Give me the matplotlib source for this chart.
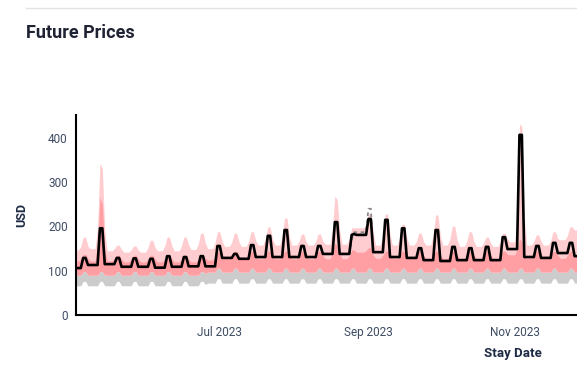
import matplotlib
matplotlib.use('Agg')
import matplotlib.pyplot as plt
import matplotlib.dates as mdates
import pandas as pd

plt.rcParams['font.family'] = ['Roboto', 'DejaVu Sans']

# daily values from Mon 2023-05-01, one row per week (Mon..Sun)
black = [
    106, 106, 106, 106, 129, 129, 113,  # May 1
    113, 113, 113, 113, 196, 196, 115,  # May 8
    115, 115, 115, 115, 129, 129, 109,  # May 15
    109, 109, 109, 109, 128, 128, 109,  # May 22
    109, 109, 109, 109, 127, 127, 107,  # May 29
    107, 107, 107, 107, 133, 133, 109,  # Jun 5
    109, 109, 109, 109, 131, 131, 110,  # Jun 12
    110, 110, 110, 110, 133, 133, 110,  # Jun 19
    110, 110, 110, 110, 156, 156, 129,  # Jun 26
    129, 129, 129, 129, 138, 138, 127,  # Jul 3
    127, 127, 127, 127, 158, 158, 131,  # Jul 10
    131, 131, 131, 131, 179, 179, 131,  # Jul 17
    131, 131, 131, 131, 192, 192, 131,  # Jul 24
    131, 131, 131, 131, 156, 156, 131,  # Jul 31
    131, 131, 131, 131, 156, 156, 138,  # Aug 7
    138, 138, 138, 138, 210, 210, 138,  # Aug 14
    138, 138, 138, 138, 181, 183, 181,  # Aug 21
    181, 181, 181, 181, 217, 217, 142,  # Aug 28
    142, 142, 142, 142, 215, 215, 131,  # Sep 4
    131, 131, 131, 131, 196, 196, 129,  # Sep 11
    129, 129, 129, 129, 151, 151, 124,  # Sep 18
    124, 124, 124, 124, 192, 192, 122,  # Sep 25
    122, 122, 122, 122, 154, 154, 124,  # Oct 2
    124, 124, 124, 124, 151, 151, 124,  # Oct 9
    124, 124, 124, 124, 154, 154, 124,  # Oct 16
    124, 124, 124, 124, 176, 176, 149,  # Oct 23
    149, 149, 149, 149, 407, 407, 131,  # Oct 30
    131, 131, 131, 131, 156, 156, 129,  # Nov 6
    129, 129, 129, 129, 163, 163, 140,  # Nov 13
    140, 140, 140, 140, 163, 163, 133,  # Nov 20
    133, 133, 133, 133,                 # Nov 27
]

light_hi = [
    147, 147, 147, 155, 176, 176, 155,
    150, 150, 150, 200, 343, 330, 190,
    145, 145, 145, 150, 158, 158, 148,
    142, 142, 142, 147, 156, 156, 146,
    142, 142, 142, 152, 169, 169, 152,
    145, 145, 145, 156, 176, 176, 156,
    145, 145, 145, 156, 176, 176, 158,
    148, 148, 148, 160, 185, 185, 162,
    150, 150, 150, 163, 188, 188, 166,
    155, 155, 155, 165, 185, 185, 165,
    155, 155, 155, 166, 188, 188, 168,
    158, 158, 158, 172, 199, 199, 172,
    158, 158, 158, 178, 219, 219, 178,
    158, 158, 158, 166, 183, 183, 166,
    158, 158, 158, 166, 183, 183, 166,
    160, 160, 160, 195, 269, 260, 190,
    160, 160, 160, 172, 197, 197, 197,
    197, 197, 197, 205, 228, 228, 185,
    158, 158, 158, 182, 228, 228, 182,
    158, 158, 158, 174, 205, 205, 174,
    158, 158, 158, 166, 185, 185, 166,
    158, 158, 158, 180, 226, 226, 180,
    158, 158, 158, 172, 201, 201, 170,
    155, 155, 155, 166, 188, 188, 166,
    155, 155, 155, 162, 176, 176, 162,
    155, 155, 155, 165, 185, 185, 172,
    165, 165, 165, 220, 432, 425, 220,
    158, 158, 158, 166, 181, 181, 166,
    158, 158, 158, 168, 188, 188, 172,
    170, 170, 170, 180, 199, 199, 192,
    192, 190, 185, 180,
]

pink_hi = [
    122, 122, 122, 128, 137, 137, 128,
    122, 122, 122, 160, 265, 250, 150,
    122, 122, 122, 128, 135, 135, 126,
    120, 120, 120, 126, 135, 135, 126,
    120, 120, 120, 126, 135, 135, 126,
    120, 120, 120, 126, 135, 135, 126,
    120, 120, 120, 126, 135, 135, 126,
    120, 120, 120, 126, 135, 135, 128,
    124, 124, 124, 131, 142, 142, 133,
    127, 127, 127, 134, 144, 144, 134,
    127, 127, 127, 134, 144, 144, 134,
    127, 127, 127, 134, 144, 144, 134,
    127, 127, 127, 134, 144, 144, 134,
    127, 127, 127, 134, 144, 144, 134,
    127, 127, 127, 134, 144, 144, 134,
    127, 127, 127, 140, 162, 157, 138,
    127, 127, 127, 134, 147, 147, 142,
    142, 142, 142, 145, 152, 152, 135,
    128, 128, 128, 135, 144, 144, 135,
    128, 128, 128, 135, 144, 144, 135,
    128, 128, 128, 135, 144, 144, 135,
    128, 128, 128, 135, 144, 144, 135,
    128, 128, 128, 135, 144, 144, 135,
    128, 128, 128, 135, 144, 144, 135,
    128, 128, 128, 135, 144, 144, 135,
    128, 128, 128, 135, 144, 144, 137,
    136, 136, 136, 148, 172, 167, 135,
    128, 128, 128, 135, 144, 144, 135,
    128, 128, 128, 135, 144, 144, 135,
    128, 128, 128, 135, 144, 144, 135,
    128, 128, 128, 128,
]

pink_lo = [
    90, 90, 90, 90, 98, 98, 90,
    90, 90, 90, 90, 98, 98, 90,
    90, 90, 90, 90, 98, 98, 90,
    90, 90, 90, 90, 98, 98, 90,
    90, 90, 90, 90, 98, 98, 90,
    90, 90, 90, 90, 98, 98, 90,
    90, 90, 90, 90, 98, 98, 90,
    90, 90, 90, 90, 98, 98, 94,
    97, 97, 97, 97, 106, 106, 97,
    97, 97, 97, 97, 106, 106, 97,
    97, 97, 97, 97, 106, 106, 97,
    97, 97, 97, 97, 106, 106, 97,
    97, 97, 97, 97, 106, 106, 97,
    97, 97, 97, 97, 106, 106, 97,
    97, 97, 97, 97, 106, 106, 97,
    97, 97, 97, 97, 106, 106, 97,
    97, 97, 97, 97, 106, 106, 97,
    97, 97, 97, 97, 106, 106, 97,
    97, 97, 97, 97, 106, 106, 97,
    97, 97, 97, 97, 106, 106, 97,
    97, 97, 97, 97, 106, 106, 97,
    97, 97, 97, 97, 106, 106, 97,
    97, 97, 97, 97, 106, 106, 97,
    97, 97, 97, 97, 106, 106, 97,
    97, 97, 97, 97, 106, 106, 97,
    97, 97, 97, 97, 106, 106, 97,
    97, 97, 97, 97, 106, 106, 97,
    97, 97, 97, 97, 106, 106, 97,
    97, 97, 97, 97, 106, 106, 97,
    97, 97, 97, 97, 106, 106, 97,
    97, 97, 97, 97,
]

gray_lo = [
    66, 66, 66, 66, 76, 76, 66,
    66, 66, 66, 66, 76, 76, 66,
    66, 66, 66, 66, 76, 76, 66,
    66, 66, 66, 66, 76, 76, 66,
    66, 66, 66, 66, 76, 76, 66,
    66, 66, 66, 66, 76, 76, 66,
    66, 66, 66, 66, 76, 76, 66,
    66, 66, 66, 66, 76, 76, 69,
    72, 72, 72, 72, 82, 82, 72,
    72, 72, 72, 72, 82, 82, 72,
    72, 72, 72, 72, 82, 82, 72,
    72, 72, 72, 72, 82, 82, 72,
    72, 72, 72, 72, 82, 82, 72,
    72, 72, 72, 72, 82, 82, 72,
    72, 72, 72, 72, 82, 82, 72,
    72, 72, 72, 72, 82, 82, 72,
    72, 72, 72, 72, 82, 82, 72,
    72, 72, 72, 72, 82, 82, 72,
    72, 72, 72, 72, 82, 82, 72,
    72, 72, 72, 72, 82, 82, 72,
    72, 72, 72, 72, 82, 82, 72,
    72, 72, 72, 72, 82, 82, 72,
    72, 72, 72, 72, 82, 82, 72,
    72, 72, 72, 72, 82, 82, 72,
    72, 72, 72, 72, 82, 82, 72,
    72, 72, 72, 72, 82, 82, 72,
    72, 72, 72, 72, 82, 82, 72,
    72, 72, 72, 72, 82, 82, 72,
    72, 72, 72, 72, 82, 82, 72,
    72, 72, 72, 72, 82, 82, 72,
    72, 72, 72, 72,
]

# dashed comparison line, only visible where it leaves the black one
dash_start = '2023-08-24'
dashed = [138, 170, 187, 187, 187, 187, 187, 187, 240, 240, 142]

days = pd.date_range('2023-05-01', periods=len(black), freq='D')
dash_days = pd.date_range(dash_start, periods=len(dashed), freq='D')

fig = plt.figure(figsize=(5.77, 3.87), dpi=100)
ax = fig.add_axes([0.1317, 0.186, 0.8683, 0.517])

ax.fill_between(days, gray_lo, pink_lo, color='#cccccc', lw=0)
ax.fill_between(days, pink_lo, light_hi, color='#ffcccf', lw=0)
ax.fill_between(days, pink_lo, pink_hi, color='#ff9fa4', lw=0)
ax.plot(dash_days, dashed, color='#888888', lw=1.3, ls=(0, (2, 2)))
ax.plot(days, black, color='black', lw=1.9, solid_joinstyle='round')

ax.set_xlim(pd.Timestamp('2023-05-02'), pd.Timestamp('2023-11-27'))
ax.set_ylim(0, 452)
ax.set_yticks([0, 100, 200, 300, 400])
ax.xaxis.set_major_locator(mdates.MonthLocator(bymonth=[7, 9, 11]))
ax.xaxis.set_major_formatter(mdates.DateFormatter('%b %Y'))

for s in ['top', 'right']:
    ax.spines[s].set_visible(False)
for s in ['left', 'bottom']:
    ax.spines[s].set_linewidth(1.5)
    ax.spines[s].set_color('black')
ax.tick_params(length=0, labelsize=8.5, colors='#3d4b63', pad=6)
ax.tick_params(axis='x', pad=8)

ax.set_ylabel('USD', fontsize=9, fontweight='bold', color='#1f2a44', labelpad=14)
fig.text(513 / 577, 1 - 354 / 387, 'Stay Date', fontsize=9.5, fontweight='bold',
         color='#1f2a44', ha='center', va='center')
fig.text(26 / 577, 1 - 33 / 387, 'Future Prices', fontsize=13, fontweight='bold',
         color='#1f2233', ha='left', va='center')
fig.add_artist(plt.Line2D([26 / 577, 1], [1 - 8 / 387] * 2, color='#e3e3e3', lw=1))

fig.savefig('out.png', dpi=100)
